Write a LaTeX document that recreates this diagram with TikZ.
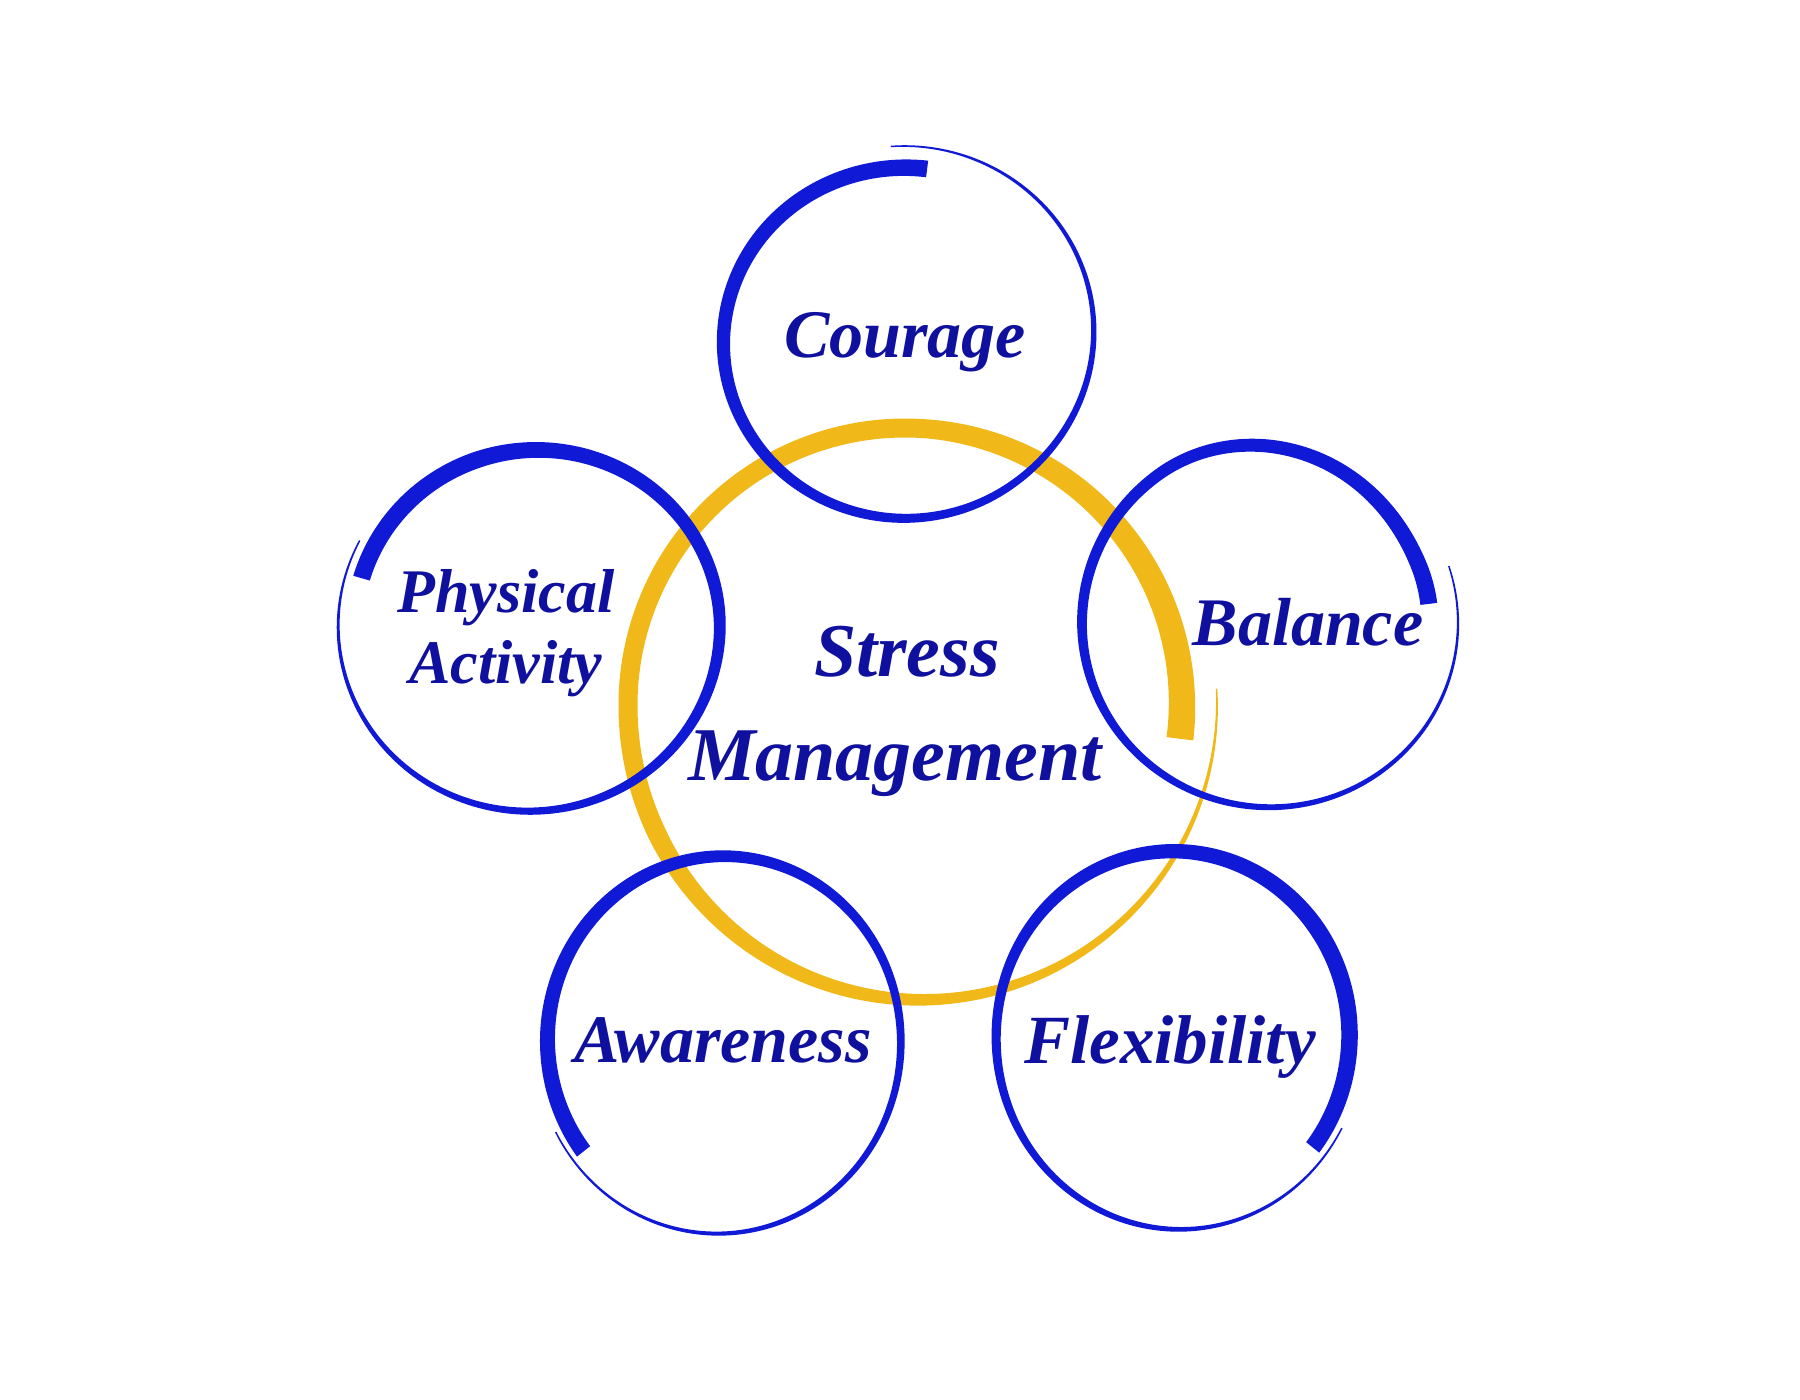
\documentclass[tikz,border=0pt]{standalone}
\usepackage{fontspec}
\setmainfont{Liberation Serif}
\definecolor{ringblue}{HTML}{1019D6}
\definecolor{textblue}{HTML}{10109E}
\definecolor{ringyellow}{HTML}{F0B919}
\pgfkeys{/ring/.cd,
  cx/.store in=\BRcx, cy/.store in=\BRcy,
  ta/.store in=\BRta, tb/.store in=\BRtb,
  ra/.store in=\BRra, rb/.store in=\BRrb,
  rs/.store in=\BRrs, re/.store in=\BRre,
  wa/.store in=\BRwa, wb/.store in=\BRwb,
  k/.store in=\BRk, we/.store in=\BRwe,
  ex/.store in=\BRex, ey/.store in=\BRey}
\newcommand\brushring[2]{%
  \begingroup
  \pgfkeys{/ring/.cd,rs=0,re=1,wa=1.5,wb=17,k=1,we=0,ex=1,ey=1,#2}%
  \fill[#1] plot[domain=\BRta:\BRtb, samples=240, variable=\ang, smooth]
      ({\BRcx+(brad(\ang)+bwid(\ang)/2)*\BRex*cos(\ang)},{\BRcy+(brad(\ang)+bwid(\ang)/2)*\BRey*sin(\ang)})
    -- plot[domain=\BRtb:\BRta, samples=240, variable=\ang, smooth]
      ({\BRcx+(brad(\ang)-bwid(\ang)/2)*\BRex*cos(\ang)},{\BRcy+(brad(\ang)-bwid(\ang)/2)*\BRey*sin(\ang)})
    -- cycle;
  \endgroup}
\begin{document}
\begin{tikzpicture}[x=0.01cm, y=-0.01cm,
  declare function={
    bs(\q)=(\q-(\BRta))/((\BRtb)-(\BRta));
    bramp(\q)=min(1,max(0,(bs(\q)-\BRrs)/(\BRre-\BRrs)));
    brad(\q)=\BRra+(\BRrb-\BRra)*bramp(\q)*bramp(\q)*(3-2*bramp(\q));
    bwid(\q)=\BRwa+(\BRwb-\BRwa)*min(1,bs(\q)/\BRk)+\BRwe*max(0,(bs(\q)-0.75)/0.25);
  },
  lbl/.style={text=textblue, inner sep=0pt},
  bigfont/.style={font=\fontsize{19.35pt}{23pt}\selectfont\bfseries\itshape}]
\useasboundingbox (0,0) rectangle (1800,1400);
\fill[white] (0,0) rectangle (1800,1400);

% central yellow brush ring
\brushring{ringyellow}{cx=905,cy=705,ta=-3,tb=367,ra=312,rb=277,re=0.5,wb=19,k=0.42,we=8}

% blue brush rings
\brushring{ringblue}{cx=905,cy=343,ta=-94,tb=277,ra=200,rb=178,re=0.4,ex=1.02,ey=0.985}
\brushring{ringblue}{cx=529,cy=626,ta=207.5,tb=-163.6,ra=188,rb=172,rs=0.55,re=1,ex=1.015,ey=0.985,k=0.85}
\brushring{ringblue}{cx=1270,cy=623,ta=-18,tb=353,ra=188,rb=160,rs=0.68,re=0.96,ey=0.98}
\brushring{ringblue}{cx=724,cy=1040,ta=152.3,tb=-217.3,ra=196,rb=182,re=0.45,ex=0.97,ey=1.01}
\brushring{ringblue}{cx=1173,cy=1035,ta=27.9,tb=397.7,ra=197,rb=182,re=0.45,ex=0.97,ey=1.01,k=0.8}

% labels
\node[lbl, bigfont, anchor=base] (courage) at (905,357) {Courage};
\node[lbl, bigfont, anchor=base] (balance) at (1308,645) {Balance};
\node[lbl, bigfont, anchor=base] (awareness) at (723,1062) {Awareness};
\node[lbl, font=\fontsize{19.63pt}{23pt}\selectfont\bfseries\itshape, anchor=base] (flexibility) at (1170,1063) {Flexibility};
\node[lbl, font=\fontsize{17.64pt}{20.2pt}\selectfont\bfseries\itshape, align=center, anchor=center] (physical) at (506,633) {Physical\\Activity};
\node[lbl, font=\fontsize{21.6pt}{29.6pt}\selectfont\bfseries\itshape, align=center, anchor=center] (stress) at (895,711) {\hspace*{6.8pt}Stress\\Management};
\end{tikzpicture}
\end{document}
